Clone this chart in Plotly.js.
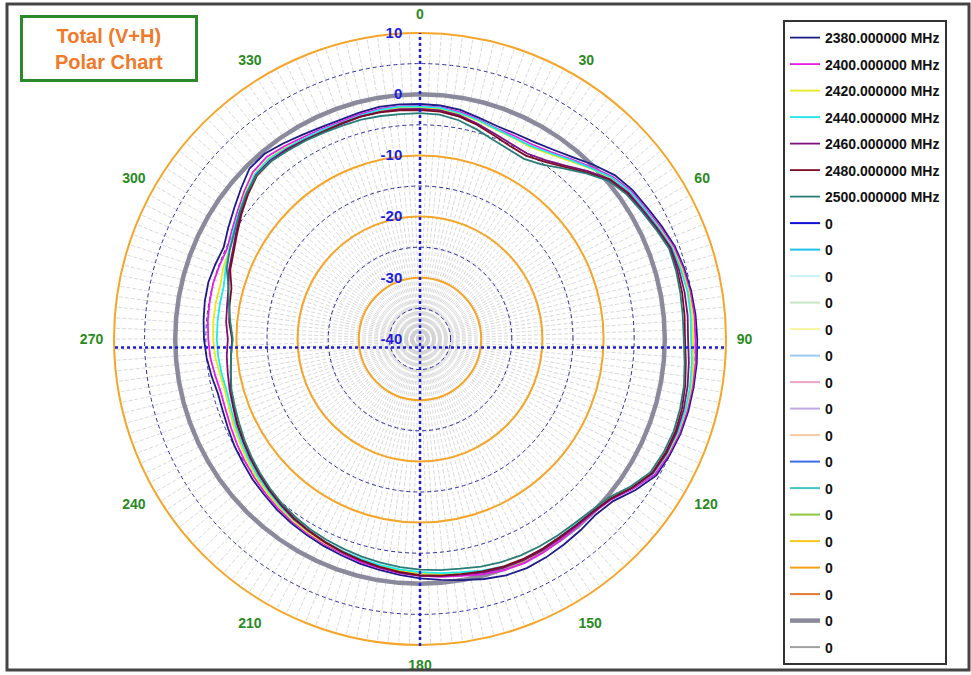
<!DOCTYPE html>
<html><head><meta charset="utf-8">
<script src="https://cdn.plot.ly/plotly-3.0.1.min.js"></script>
<style>html,body{margin:0;padding:0;background:#fff}#chart{width:971px;height:675px}</style>
</head><body><div id="chart"></div>
<script>
// ---- data ----
const angles = [0,5,10,15,20,25,30,35,40,45,50,55,60,65,70,75,80,85,90,95,100,105,110,115,120,125,130,135,140,145,150,155,160,165,170,175,180,185,190,195,200,205,210,215,220,225,230,235,240,245,250,255,260,265,270,275,280,285,290,295,300,305,310,315,320,325,330,335,340,345,350,355];

const seriesNames = ['2380.000000 MHz','2400.000000 MHz','2420.000000 MHz','2440.000000 MHz','2460.000000 MHz','2480.000000 MHz','2500.000000 MHz'];

const f2380 = [-1.6,-1.7,-2.0,-2.6,-3.0,-3.0,-2.8,-2.2,-1.2,0.2,1.6,2.4,2.9,3.6,4.3,4.7,5.0,5.2,5.3,5.4,5.4,5.4,5.3,5.0,4.6,3.0,1.2,0.6,0.8,1.0,1.2,1.3,1.1,0.6,0.0,-0.5,-0.9,-1.3,-1.7,-2.0,-2.4,-2.7,-3.0,-3.3,-3.6,-4.0,-4.3,-4.7,-5.0,-5.4,-5.7,-5.8,-5.4,-5.0,-4.7,-4.5,-4.3,-4.2,-4.4,-4.6,-3.8,-2.9,-1.8,-0.6,-0.5,-1.0,-1.5,-1.8,-1.9,-1.7,-1.5,-1.5];
const f2400 = [-1.9,-2.0,-2.3,-2.9,-3.4,-3.4,-3.3,-2.7,-1.6,-0.3,1.2,2.1,2.6,3.3,4.1,4.5,4.8,5.0,5.0,5.2,5.2,5.2,5.1,4.8,4.3,2.6,0.8,0.1,0.0,0.1,0.3,0.4,0.2,-0.2,-0.7,-1.0,-1.3,-1.6,-2.0,-2.3,-2.7,-3.0,-3.3,-3.6,-3.9,-4.3,-4.7,-5.1,-5.5,-5.9,-6.2,-6.3,-6.0,-5.6,-5.4,-5.2,-5.1,-5.0,-5.1,-5.2,-4.5,-3.6,-2.5,-1.4,-1.1,-1.5,-1.9,-2.1,-2.2,-2.0,-1.8,-1.8];
const f2420 = [-2.2,-2.3,-2.6,-3.1,-3.6,-3.8,-3.8,-3.1,-2.0,-0.6,0.9,1.9,2.4,3.1,3.9,4.3,4.6,4.7,4.6,4.9,5.0,5.0,4.9,4.6,4.0,2.3,0.5,-0.2,-0.3,-0.2,-0.1,0.0,-0.2,-0.6,-1.1,-1.4,-1.7,-2.0,-2.3,-2.6,-2.9,-3.2,-3.5,-3.8,-4.2,-4.6,-5.0,-5.5,-6.0,-6.4,-6.8,-7.0,-6.8,-6.4,-6.2,-6.1,-6.1,-6.2,-5.8,-5.6,-4.9,-3.9,-2.8,-1.8,-1.5,-1.8,-2.2,-2.4,-2.5,-2.3,-2.1,-2.1];
const f2440 = [-2.0,-2.1,-2.5,-3.0,-3.5,-3.7,-3.6,-2.9,-1.8,-0.5,1.0,1.9,2.4,3.0,3.8,4.1,4.4,4.4,4.3,4.6,4.8,4.9,4.8,4.5,4.0,2.4,0.6,-0.2,-0.4,-0.4,-0.3,-0.2,-0.4,-0.8,-1.3,-1.6,-1.9,-2.2,-2.5,-2.8,-3.1,-3.4,-3.7,-4.0,-4.4,-4.9,-5.3,-5.8,-6.3,-6.7,-7.1,-7.3,-7.1,-6.9,-6.8,-6.8,-6.8,-6.8,-6.2,-5.6,-4.8,-3.9,-2.9,-1.9,-1.6,-1.9,-2.2,-2.3,-2.4,-2.2,-2.0,-1.9];
const f2460 = [-2.4,-2.5,-2.9,-3.6,-4.3,-4.8,-5.0,-4.3,-3.0,-1.2,0.6,1.6,2.1,2.8,3.6,3.8,3.9,3.9,3.8,4.1,4.4,4.6,4.6,4.4,3.9,2.4,0.7,0.0,-0.2,-0.2,-0.1,-0.1,-0.2,-0.5,-0.9,-1.1,-1.3,-1.7,-2.1,-2.5,-2.9,-3.3,-3.7,-4.1,-4.6,-5.1,-5.6,-6.1,-6.6,-7.0,-7.5,-7.8,-8.1,-8.3,-8.6,-8.2,-8.0,-7.6,-6.8,-6.2,-5.3,-4.2,-3.1,-2.1,-1.9,-2.1,-2.4,-2.6,-2.6,-2.4,-2.3,-2.3];
const f2480 = [-2.6,-2.7,-3.1,-3.8,-4.6,-5.2,-5.4,-4.6,-3.3,-1.5,0.4,1.4,1.9,2.6,3.4,3.5,3.5,3.4,3.3,3.6,4.0,4.3,4.4,4.2,3.8,2.3,0.6,-0.1,-0.3,-0.4,-0.3,-0.3,-0.4,-0.7,-1.0,-1.2,-1.4,-1.8,-2.2,-2.6,-3.0,-3.4,-3.8,-4.2,-4.7,-5.2,-5.7,-6.2,-6.7,-7.1,-7.6,-8.0,-8.6,-9.0,-9.3,-8.7,-8.4,-8.1,-7.0,-6.4,-5.5,-4.4,-3.3,-2.3,-2.1,-2.3,-2.5,-2.6,-2.5,-2.4,-2.4,-2.5];
const f2500 = [-3.1,-3.2,-3.7,-4.5,-5.3,-5.8,-6.0,-5.2,-3.6,-1.7,0.2,1.2,1.8,2.5,3.3,3.3,3.2,3.1,3.1,3.4,3.8,4.0,4.1,3.9,3.5,2.0,0.3,-0.4,-0.7,-0.8,-0.9,-1.0,-1.2,-1.5,-1.9,-2.1,-2.3,-2.6,-2.9,-3.2,-3.5,-3.8,-4.1,-4.5,-4.9,-5.4,-5.9,-6.4,-6.9,-7.4,-7.8,-8.1,-8.6,-9.0,-9.4,-8.9,-8.3,-7.6,-6.4,-5.7,-5.0,-4.0,-3.0,-2.2,-2.1,-2.4,-2.6,-2.8,-2.9,-2.9,-3.0,-3.1];
const seriesValues = [f2380,f2400,f2420,f2440,f2460,f2480,f2500];
const seriesColors = ['#1c1c86','#e41ee4','#e8e81a','#1ee8e8','#7c107c','#7a0c26','#2a7c78'];

// reference (0 dB) ring and the empty "0" series
const refLevel = angles.map(() => 0);
const zeroName = '0';
const zeroColors = ['#1010d8','#1ec0ec','#c8f2f6','#c6e6c6','#f6f6a0','#9cc8f2','#eca4c4','#c2a8e6','#f6caa4','#3a6ee6','#44c4c4','#8cc83c','#f6c81a','#f6a01a','#e07a34','#8a8a9c','#a0a0a0'];
const zeroWidths = [2,2,2,2,2,2,2,2,2,2,2,2,2,2,2,4.5,2];
const refIndex = 15;

const radialTicks = [10,0,-10,-20,-30,-40];
const minorRings = [5,-5,-15,-25,-35];
const angleTicks = [0,30,60,90,120,150,180,210,240,270,300,330];

// ---- layout helpers ----
const W = 971, H = 675;
const px = x => x / W;
const py = y => 1 - y / H;
const cx = 420, cy = 339, R = 306;
const dom = {x:[px(cx-R), px(cx+R)], y:[py(cy+R), py(cy-R)]};
const FONT = 'Arial, "Liberation Sans", sans-serif';

const close = a => a.concat([a[0]]);
const thetaC = close(angles);

const traces = [];
seriesValues.forEach((v, i) => {
  traces.push({type:'scatterpolar', subplot:'polar2', mode:'lines', r: close(v), theta: thetaC,
    name: seriesNames[i], legendgroup:'s'+i, legendrank: 100 + i, line:{color: seriesColors[i], width:1.8}, hoverinfo:'skip'});
});
zeroColors.forEach((c, i) => {
  const isRef = i === refIndex;
  traces.push({type:'scatterpolar', subplot: i === 0 ? 'polar' : 'polar2', mode:'lines',
    r: isRef ? close(refLevel) : [-40,-40], theta: isRef ? thetaC : [0,0],
    name: zeroName, legendgroup:'z'+i, legendrank: 200 + i, line:{color:c, width: zeroWidths[i]}, hoverinfo:'skip'});
});
// draw reference ring underneath the measured series
const refTrace = traces.splice(seriesValues.length + refIndex, 1)[0];
traces.unshift(refTrace);

const layout = {
  width: W, height: H, margin:{l:0,r:0,t:0,b:0},
  paper_bgcolor:'#fff', showlegend:true, hovermode:false,
  font:{family:FONT},
  polar:{
    domain: dom, bgcolor:'#fff',
    radialaxis:{range:[-40,10], tickmode:'array', tickvals:minorRings, showticklabels:false, ticks:'',
      showline:false, gridcolor:'#2a2aa0', griddash:'4px,3px', gridwidth:1},
    angularaxis:{rotation:90, direction:'clockwise', tickmode:'linear', tick0:0, dtick:2,
      showticklabels:false, ticks:'', showline:false, gridcolor:'#cfcfcf', griddash:'4px,2px', gridwidth:0.8}
  },
  polar2:{
    domain: dom, bgcolor:'rgba(0,0,0,0)',
    radialaxis:{range:[-40,10], tickmode:'array', tickvals:radialTicks, ticktext:radialTicks.map(String),
      showline:false, ticks:'outside', ticklen:12, tickcolor:'rgba(0,0,0,0)', gridcolor:'#f4a52a', gridwidth:2,
      angle:90, side:'counterclockwise', tickangle:90,
      tickfont:{family:FONT, size:15, color:'#1e1ee0', weight:'bold'}},
    angularaxis:{rotation:90, direction:'clockwise', tickmode:'array', tickvals:angleTicks, ticktext:angleTicks.map(String),
      showgrid:false, showline:true, linecolor:'#f4a52a', linewidth:2, ticks:'outside', ticklen:7, tickcolor:'rgba(0,0,0,0)',
      tickfont:{family:FONT, size:14, color:'#2a8a22', weight:'bold'}}
  },
  legend:{x:px(783), y:py(20), xanchor:'left', yanchor:'top', bgcolor:'#fff', bordercolor:'#333', borderwidth:2,
    font:{family:FONT, size:14, color:'#111', weight:'bold'}, tracegroupgap:5.3, itemwidth:30, traceorder:'grouped'},
  shapes:[
    {type:'rect', xref:'paper', yref:'paper', x0:px(7), x1:px(969), y0:py(670), y1:py(4), line:{color:'#444', width:3}},
    {type:'line', xref:'paper', yref:'paper', x0:px(420), x1:px(420), y0:py(646), y1:py(33), line:{color:'#1e1ed0', width:2.5, dash:'dot'}},
    {type:'line', xref:'paper', yref:'paper', x0:px(115), x1:px(725), y0:py(347.5), y1:py(347.5), line:{color:'#1e1ed0', width:2.5, dash:'dot'}}
  ],
  annotations:[
    {xref:'paper', yref:'paper', x:px(20), y:py(15), xanchor:'left', yanchor:'top', showarrow:false,
     text:'Total (V+H)<br>Polar Chart', align:'center',
     font:{family:FONT, size:20, color:'#f07a2a', weight:'bold'},
     bordercolor:'#2a8a2a', borderwidth:3, borderpad:5, bgcolor:'#fff', width:162, height:51}
  ]
};

Plotly.newPlot('chart', traces, layout, {displayModeBar:false, staticPlot:true});
</script>
</body></html>
